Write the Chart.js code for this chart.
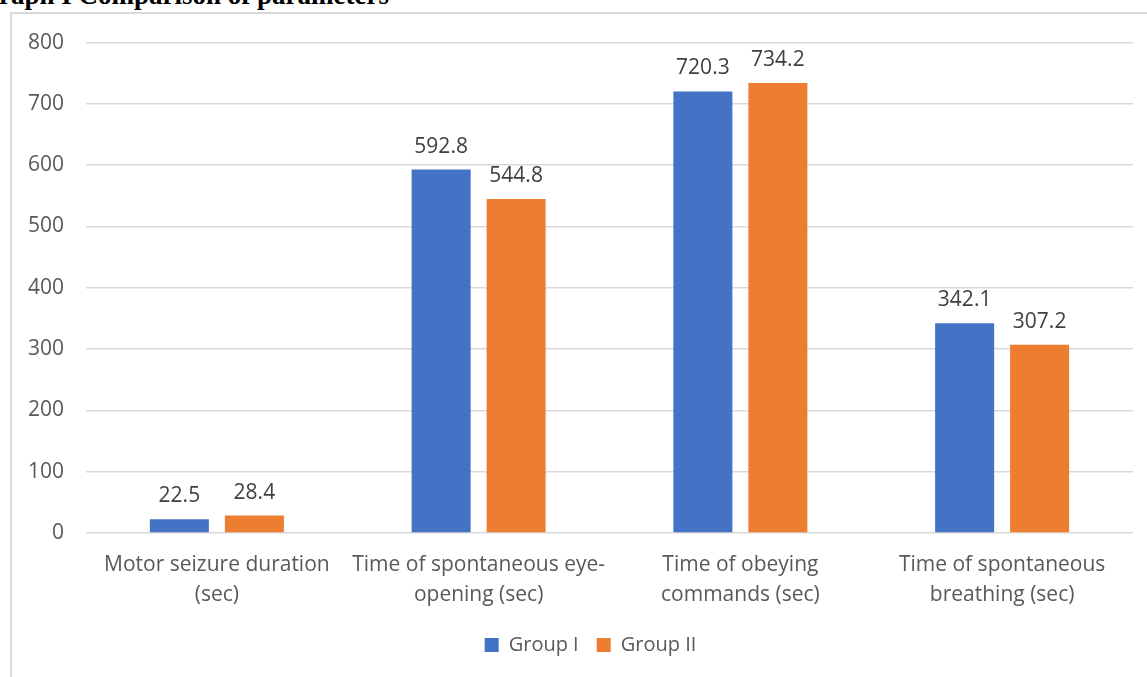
<!DOCTYPE html>
<html>
<head>
<meta charset="utf-8">
<script src="https://cdn.jsdelivr.net/npm/chart.js@4.4.1/dist/chart.umd.min.js"></script>
<style>
  html, body { margin: 0; padding: 0; background: #ffffff; overflow: hidden; }
  body { width: 1147px; height: 677px; position: relative; }
  #heading {
    position: absolute; left: -22px; top: -18px;
    font-family: "Liberation Serif", "Times New Roman", serif;
    font-weight: bold; font-size: 27px; line-height: 27px; color: #000; white-space: nowrap;
  }
  #frame {
    position: absolute; left: 10px; top: 12px; width: 1150px; height: 680px;
    border-left: 2px solid #d9d9d9; border-top: 2px solid #d9d9d9;
  }
  #wrap { position: absolute; left: 12px; top: 8px; width: 1135px; height: 669px; }
</style>
</head>
<body>
<div id="heading">Graph I Comparison of parameters</div>
<div id="frame"></div>
<div id="wrap"><canvas id="c"></canvas></div>
<script>
const categories = [
  ["Motor seizure duration", "(sec)"],
  ["Time of spontaneous eye-", "opening (sec)"],
  ["Time of obeying", "commands (sec)"],
  ["Time of spontaneous", "breathing (sec)"]
];
const groupI = [22.5, 592.8, 720.3, 342.1];
const groupII = [28.4, 544.8, 734.2, 307.2];
const yTicks = [0, 100, 200, 300, 400, 500, 600, 700, 800];

const FONT = "'Open Sans', 'Noto Sans', sans-serif";
const SIZE = 21;

// Writes each bar's value just above it
const valueLabels = {
  id: 'valueLabels',
  afterDatasetsDraw(chart) {
    const ctx = chart.ctx;
    ctx.save();
    ctx.font = SIZE + "px " + FONT;
    ctx.fillStyle = '#404040';
    ctx.textAlign = 'center';
    ctx.textBaseline = 'alphabetic';
    chart.data.datasets.forEach((ds, di) => {
      chart.getDatasetMeta(di).data.forEach((bar, i) => {
        ctx.fillText(ds.data[i].toFixed(1), bar.x, bar.y - 17);
      });
    });
    ctx.restore();
  }
};

// Nudges the legend a little to the right of the canvas centre
const legendShift = {
  id: 'legendShift',
  afterLayout(chart) {
    if (chart.legend) {
      chart.legend.left += 18;
      chart.legend.right += 18;
    }
  }
};

new Chart(document.getElementById('c'), {
  type: 'bar',
  data: {
    labels: categories,
    datasets: [
      { label: 'Group I', data: groupI, backgroundColor: '#4472C4' },
      { label: 'Group II', data: groupII, backgroundColor: '#ED7D31' }
    ]
  },
  options: {
    responsive: true,
    maintainAspectRatio: false,
    animation: false,
    datasets: { bar: { categoryPercentage: 0.573, barPercentage: 0.787 } },
    layout: { padding: { top: 18, right: 14, bottom: 12, left: 0 } },
    plugins: {
      legend: {
        position: 'bottom',
        labels: {
          boxWidth: 14, boxHeight: 14, padding: 18,
          color: '#595959', font: { family: FONT, size: 20 }
        }
      },
      tooltip: { enabled: false }
    },
    scales: {
      x: {
        afterFit(scale) { scale.height = 84; },
        grid: { display: false },
        border: { display: false },
        ticks: {
          color: '#595959', font: { family: FONT, size: SIZE, lineHeight: 1.43 },
          padding: 9, maxRotation: 0, autoSkip: false
        }
      },
      y: {
        min: 0, max: 800,
        afterBuildTicks(scale) { scale.ticks = yTicks.map(v => ({ value: v })); },
        afterFit(scale) { scale.width = 74; },
        grid: { color: '#d9d9d9', lineWidth: 1.5, drawTicks: false },
        border: { display: false },
        ticks: { color: '#595959', font: { family: FONT, size: SIZE }, padding: 22 }
      }
    }
  },
  plugins: [valueLabels, legendShift]
});
</script>
</body>
</html>
